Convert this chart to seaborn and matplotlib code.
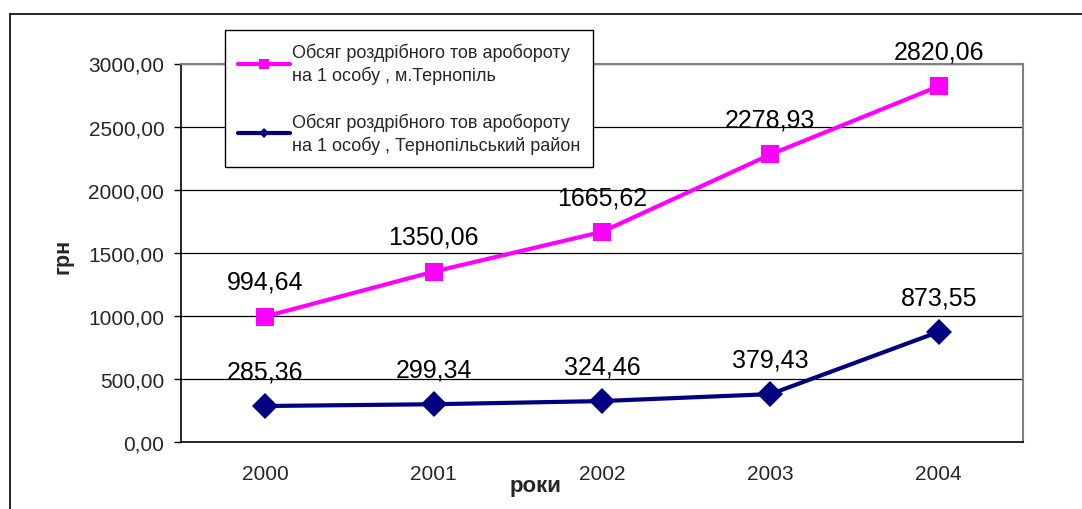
import matplotlib
matplotlib.use("Agg")
import matplotlib.pyplot as plt
from matplotlib.lines import Line2D
from matplotlib.ticker import FuncFormatter, FixedLocator
import numpy as np
import pandas as pd
import seaborn as sns

# Data
years = ["2000", "2001", "2002", "2003", "2004"]
city_values = [994.64, 1350.06, 1665.62, 2278.93, 2820.06]
district_values = [285.36, 299.34, 324.46, 379.43, 873.55]
city_label = "Обсяг роздрібного тов аробороту\nна 1 особу , м.Тернопіль"
district_label = "Обсяг роздрібного тов аробороту\nна 1 особу , Тернопільський район"
y_ticks = [0, 500, 1000, 1500, 2000, 2500, 3000]

sns.set_style("white")
plt.rcParams["font.family"] = ["Liberation Sans", "DejaVu Sans"]

fig = plt.figure(figsize=(10.82, 5.10), dpi=100)
ax = fig.add_axes([181 / 1082, 67 / 510, 842 / 1082, 378.5 / 510])

pos = np.arange(len(years))
df = pd.DataFrame({
    "pos": np.concatenate([pos, pos]),
    "value": city_values + district_values,
    "series": [city_label] * len(years) + [district_label] * len(years),
})

sns.lineplot(data=df, x="pos", y="value", hue="series", style="series",
             hue_order=[city_label, district_label],
             style_order=[city_label, district_label],
             palette={city_label: "#FF00FF", district_label: "#000080"},
             markers={city_label: "s", district_label: "D"},
             dashes=False, linewidth=3, markersize=13.5, markeredgewidth=0,
             ax=ax, legend=False, zorder=3)

# Value labels above each point
for vals in (city_values, district_values):
    for x, v in zip(pos, vals):
        ax.annotate(f"{v:.2f}".replace(".", ","), (x, v), textcoords="offset points",
                    xytext=(0, 25), ha="center", va="center", fontsize=18, color="black")

# Axes
ax.set_xlim(-0.5, len(years) - 0.5)
ax.set_ylim(0, 3000)
ax.set_yticks(y_ticks)
ax.yaxis.set_major_formatter(FuncFormatter(lambda v, p: f"{v:.2f}".replace(".", ",")))
ax.set_xticks(pos)
ax.set_xticklabels(years)
ax.xaxis.set_minor_locator(FixedLocator(np.arange(-0.5, len(years), 1.0)))
ax.tick_params(axis="x", which="major", length=0, pad=16, labelsize=15)
ax.tick_params(axis="x", which="minor", length=6, width=1, color="black", direction="out")
ax.tick_params(axis="y", which="major", length=5, width=1, color="black",
               direction="out", pad=7, labelsize=15, left=True)
ax.grid(axis="y", color="black", linewidth=0.9)
ax.set_axisbelow(True)

for side in ("left", "bottom"):
    ax.spines[side].set_color("black")
    ax.spines[side].set_linewidth(1.2)
for side in ("top", "right"):
    ax.spines[side].set_color("#808080")
    ax.spines[side].set_linewidth(1.5)

ax.set_xlabel("роки", fontsize=16, fontweight="bold")
ax.xaxis.set_label_coords((536 - 181) / 842, (443 - 487) / 378.5)
ax.xaxis.label.set_va("center")
ax.set_ylabel("грн", fontsize=15.5, fontweight="bold")
ax.yaxis.set_label_coords((63 - 181) / 842, (443 - 256) / 378.5)
ax.yaxis.label.set_va("center")

# Legend
handles = [
    Line2D([], [], color="#FF00FF", linewidth=3, marker="s", markersize=7.5, markeredgewidth=0),
    Line2D([], [], color="#000080", linewidth=3, marker="D", markersize=5.5, markeredgewidth=0),
]
leg = ax.legend(handles, [city_label, district_label], loc="upper left",
                bbox_to_anchor=((225 - 181) / 842, (443 - 31) / 378.5),
                fontsize=13, frameon=True, fancybox=False, edgecolor="black",
                framealpha=1, handlelength=2.9, handletextpad=0.1,
                labelspacing=1.55, borderpad=0.7, borderaxespad=0)
for t in leg.get_texts():
    t.set_linespacing(1.35)
leg.get_frame().set_linewidth(1.0)
leg.set_zorder(5)

# Outer frame
fig.add_artist(Line2D([10 / 1082, 10 / 1082], [0, 1 - 15 / 510], transform=fig.transFigure,
                      color="black", linewidth=1.2))
fig.add_artist(Line2D([10 / 1082, 1], [1 - 15 / 510, 1 - 15 / 510], transform=fig.transFigure,
                      color="black", linewidth=1.2))

fig.savefig("out.png", dpi=100)
